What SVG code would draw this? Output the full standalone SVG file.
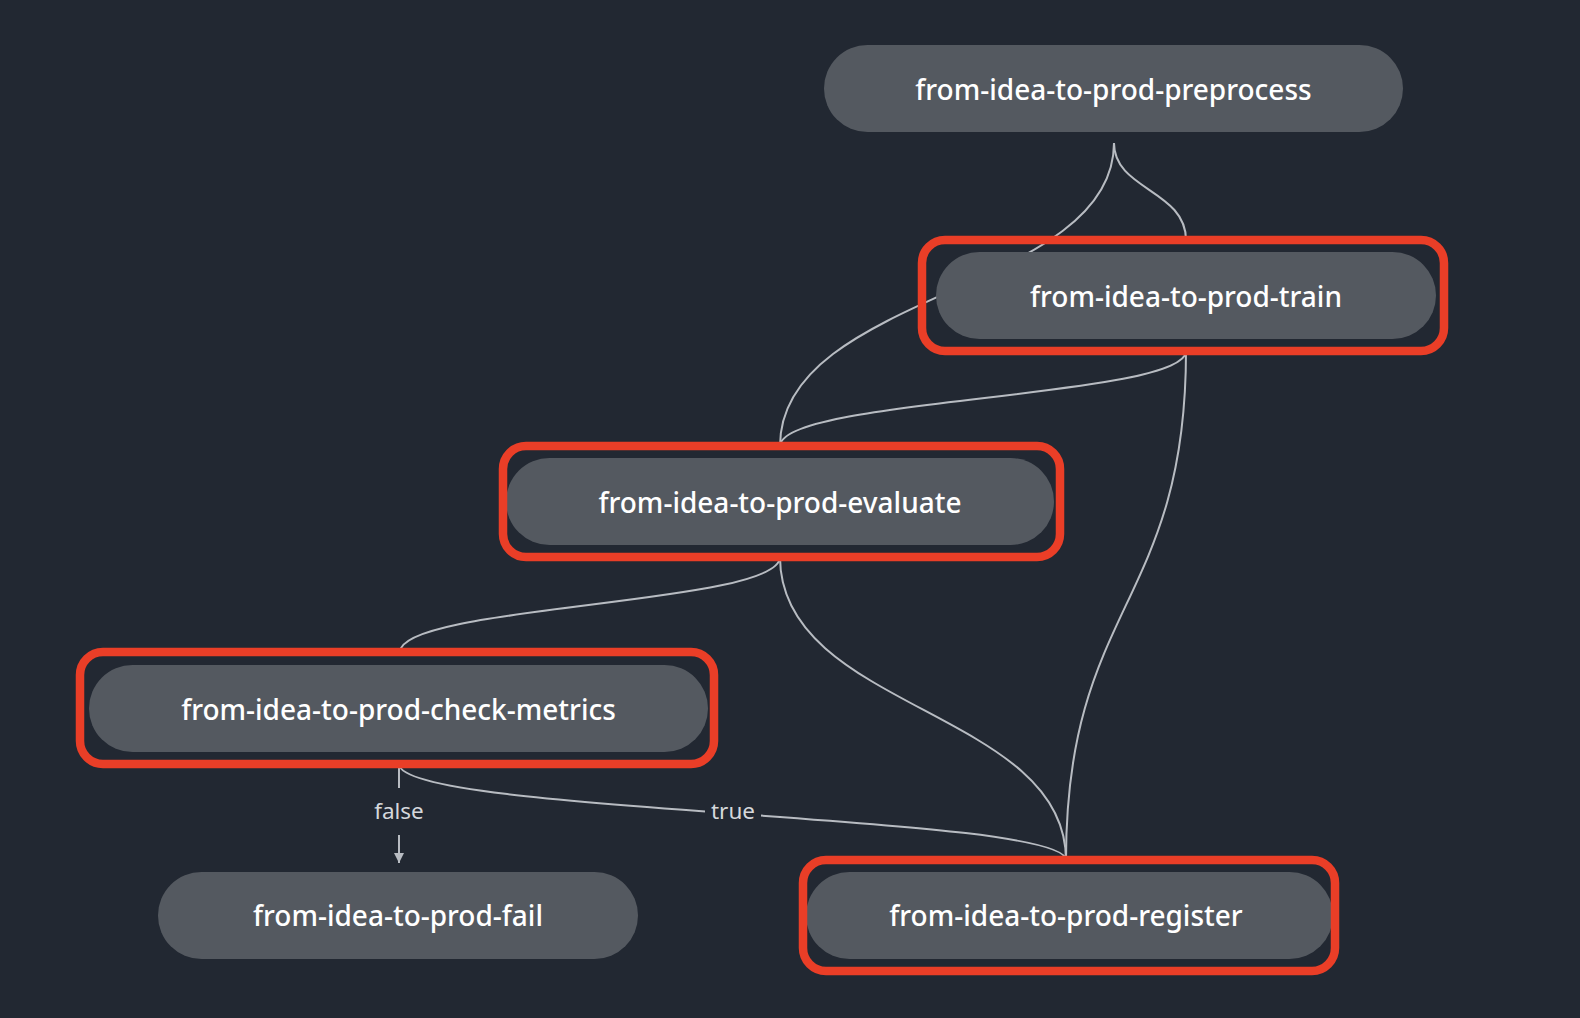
<svg xmlns="http://www.w3.org/2000/svg" width="1580" height="1018" viewBox="0 0 1580 1018">
<style>
.bg{fill:#222832}
.node{fill:#545960}
.lbl{font-family:"Noto Sans","Liberation Sans",sans-serif;font-size:28px;font-weight:500;fill:#ffffff;text-anchor:middle;dominant-baseline:central}
.edge{fill:none;stroke:#b8bcc2;stroke-width:2}
.elbl{font-family:"Noto Sans","Liberation Sans",sans-serif;font-size:22.5px;fill:#d5d8dc;text-anchor:middle;dominant-baseline:central}
.hl{fill:none;stroke:#ea3e27;stroke-width:8.5}
</style>
<defs>
<marker id="arr" viewBox="0 0 10 10" refX="10" refY="5" markerWidth="10" markerHeight="10" markerUnits="userSpaceOnUse" orient="auto">
<path d="M0,0 L10,5 L0,10 z" fill="#b8bcc2"/>
</marker>
</defs>
<rect class="bg" x="0" y="0" width="1580" height="1018"/>
<g id="connectors">
<path class="edge" d="M1114,143 C1114,190 1186,190 1186,240"/>
<path class="edge" d="M1114,143 C1114,292 780,292 780,446"/>
<path class="edge" d="M1186,351 C1186,398 780,398 780,446"/>
<path class="edge" d="M1186,351 C1186,605 1066,605 1066,860"/>
<path class="edge" d="M780,557 C780,605 400,605 400,652"/>
<path class="edge" d="M780,557 C780,710 1066,710 1066,860"/>
<path class="edge" d="M399,764 C399,814 1066,814 1066,860"/>
<path class="edge" d="M399,764 L399,863" marker-end="url(#arr)"/>
<rect class="bg" x="371" y="788" width="56" height="47"/>
<text class="elbl" x="399" y="810">false</text>
<rect class="bg" x="705" y="798" width="56" height="24"/>
<text class="elbl" x="733" y="810">true</text>
</g>
<g id="preprocess">
<rect class="node" x="824" y="45" width="579" height="87" rx="43.5"/>
<text class="lbl" x="1113.5" y="89">from-idea-to-prod-preprocess</text>
</g>
<g id="train">
<rect class="node" x="936" y="252" width="500" height="87" rx="43.5"/>
<text class="lbl" x="1186" y="296">from-idea-to-prod-train</text>
<rect class="hl" x="922" y="240" width="522" height="111" rx="23"/>
</g>
<g id="evaluate">
<rect class="node" x="506" y="458" width="548" height="87" rx="43.5"/>
<text class="lbl" x="780" y="502">from-idea-to-prod-evaluate</text>
<rect class="hl" x="503" y="446" width="557" height="111" rx="23"/>
</g>
<g id="check-metrics">
<rect class="node" x="89" y="665" width="619" height="87" rx="43.5"/>
<text class="lbl" x="398.5" y="709">from-idea-to-prod-check-metrics</text>
<rect class="hl" x="80" y="652" width="634" height="112" rx="23"/>
</g>
<g id="fail">
<rect class="node" x="158" y="872" width="480" height="87" rx="43.5"/>
<text class="lbl" x="398" y="915">from-idea-to-prod-fail</text>
</g>
<g id="register">
<rect class="node" x="806" y="872" width="527" height="87" rx="43.5"/>
<text class="lbl" x="1066" y="915">from-idea-to-prod-register</text>
<rect class="hl" x="803" y="860" width="532" height="111" rx="23"/>
</g>
</svg>
